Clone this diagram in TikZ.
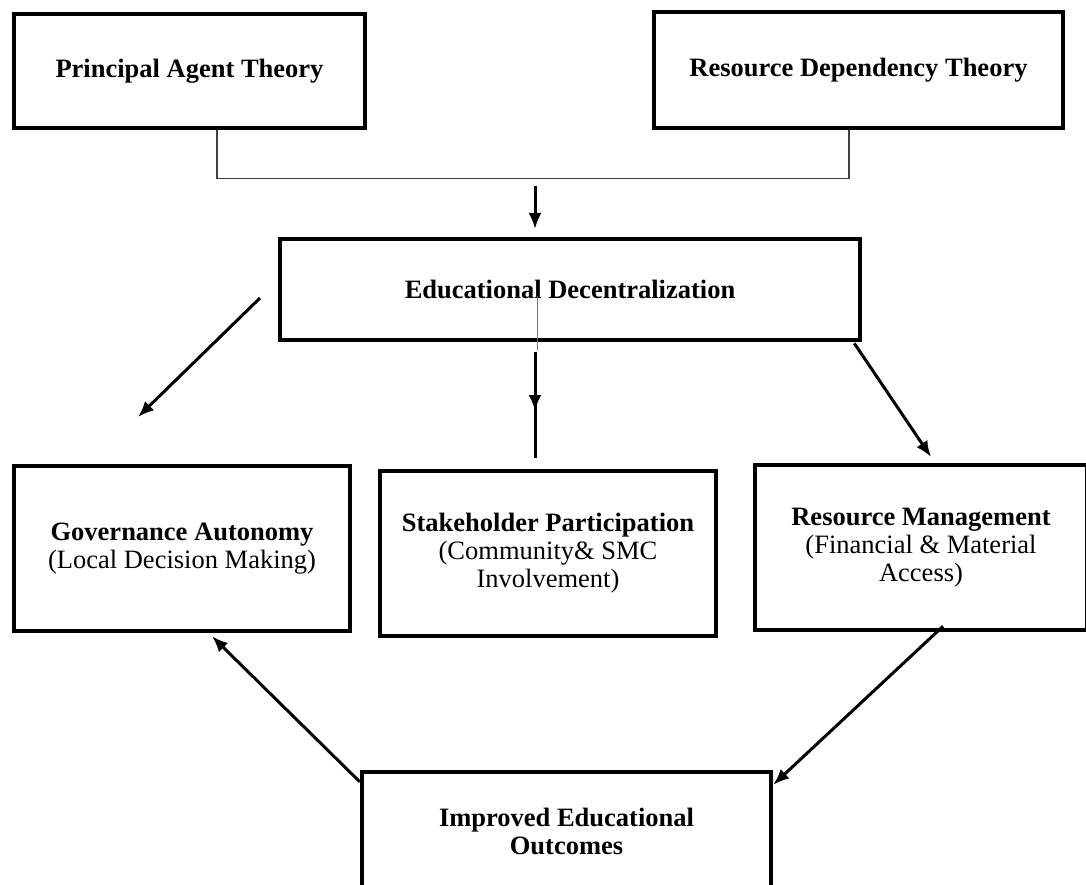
\documentclass[tikz,border=0pt]{standalone}
\usepackage{fontspec}
\setmainfont{Liberation Serif}
\usetikzlibrary{arrows.meta}

\begin{document}
\begin{tikzpicture}[x=1pt, y=-1pt,
    box/.style={draw, line width=4.5pt, align=center, inner sep=0pt,
        font=\fontsize{26.5}{28}\selectfont\bfseries},
    link/.style={draw=black!75, line width=1.3pt},
    arrow/.style={line width=3pt, -{Latex[length=16pt,width=13pt]}},
    stem/.style={line width=3pt}]
    \clip (0,0) rectangle (1086,885);
    \fill[white] (0,0) rectangle (1086,885);

    \node[box, minimum width=351pt, minimum height=114pt] at (189.5, 71)(pat) {Principal Agent Theory};
    \node[box, minimum width=409pt, minimum height=116pt] at (858.5, 70)(rdt) {Resource Dependency Theory};
    \node[box, minimum width=580pt, minimum height=101pt] at (570, 289.5)(ed) {Educational Decentralization};

    \node[box, minimum width=336pt, minimum height=165pt] at (182, 548.5)(ga)
        {Governance Autonomy\\ \mdseries(Local Decision Making)};
    \node[box, minimum width=336pt, minimum height=165pt] at (548, 553.5)(sp)
        {Stakeholder Participation\\ \mdseries(Community\& SMC\\ \mdseries Involvement)};
    \node[box, minimum width=332pt, minimum height=165pt] at (921, 547.5)(rm)
        {Resource Management\\ \mdseries(Financial \& Material\\ \mdseries Access)};
    \node[box, minimum width=409pt, minimum height=118pt] at (566.5, 831)(ieo)
        {Improved Educational\\ Outcomes};

    \coordinate (m1) at (535, 186);
    \coordinate (m2) at (535, 229);
    \coordinate (l1) at (260, 298);
    \coordinate (l2) at (138, 417);
    \coordinate (g1) at (537, 296);
    \coordinate (g2) at (537, 350);
    \coordinate (c1) at (535, 352);
    \coordinate (c2) at (535, 411);
    \coordinate (c3) at (535, 458);
    \coordinate (r2) at (931, 457);

    \draw[link] ([xshift=27.5pt]pat.south) |- ([xshift=-9.5pt, yshift=-48pt]rdt.south) -- ([xshift=-9.5pt]rdt.south);
    \draw[arrow] (m1) -- (m2);
    \draw[arrow] (l1) -- (l2);
    \draw[link, draw=black!55, line width=1pt] (g1) -- (g2);
    \draw[arrow] (c1) -- (c2);
    \draw[stem] ([yshift=12pt]c2) -- (c3);
    \draw[arrow] ([xshift=-8pt, yshift=-1pt]ed.south east) -- (r2);
    \draw[arrow] ([xshift=22pt, yshift=6pt]rm.south) -- ([yshift=-15pt]ieo.north east);
    \draw[arrow] ([yshift=-12pt]ieo.north west) -- ([xshift=30pt, yshift=-3pt]ga.south);

\end{tikzpicture}
\end{document}
